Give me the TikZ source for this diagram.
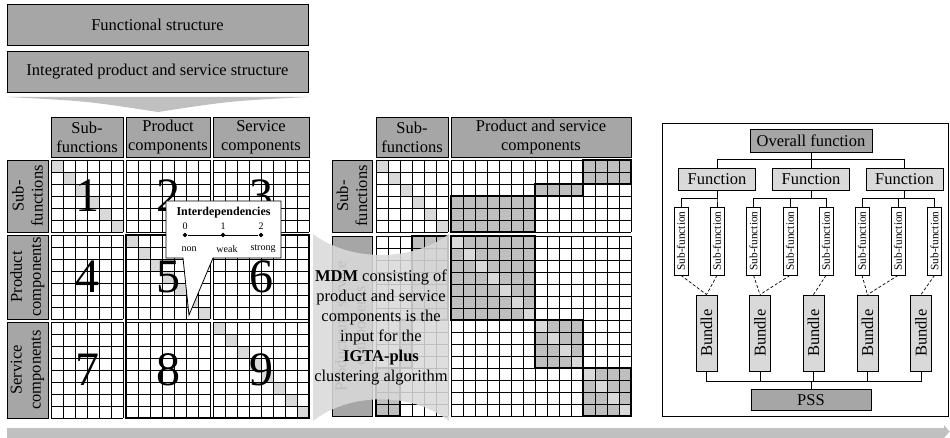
\documentclass[tikz,border=0pt]{standalone}
\usepackage{fontspec}
\setmainfont{Liberation Serif}
\usetikzlibrary{calc,shapes.geometric}
\definecolor{HeadClr}{RGB}{166,166,166}
\definecolor{DiagClr}{RGB}{217,217,217}
\definecolor{ClusterClr}{RGB}{191,191,191}
\definecolor{ArrowClr}{RGB}{192,192,192}
\definecolor{BoxClr}{RGB}{217,217,217}

\newcommand{\cellw}{12}
\newcommand{\bigfont}{\fontsize{16.5}{19}\selectfont}
\newcommand{\cellgrid}[4]{%
  \foreach \i in {0,...,#3} \draw[gridline] ({#1+\i*\cellw},#2) -- ({#1+\i*\cellw},{#2+#4*\cellw});
  \foreach \j in {0,...,#4} \draw[gridline] (#1,{#2+\j*\cellw}) -- ({#1+#3*\cellw},{#2+\j*\cellw});}
\newcommand{\diagcells}[3]{%
  \foreach \k in {1,...,#3} \fill[DiagClr] ({#1+(\k-1)*\cellw},{#2+(\k-1)*\cellw}) rectangle ++(\cellw,\cellw);}

\tikzset{
  gridline/.style={line width=0.7pt},
  blockline/.style={line width=1.8pt},
  headbox/.style={draw,fill=HeadClr,line width=0.8pt,inner sep=0pt,align=center,font=\bigfont},
  bignum/.style={font=\fontsize{48}{48}\selectfont,inner sep=0pt},
  treebox/.style={draw,line width=0.8pt,inner sep=0pt,font=\bigfont},
  tree/.style={line width=0.8pt},
  dashline/.style={line width=0.7pt,dashed,dash pattern=on 3pt off 2pt},
  scalemark/.style={diamond,fill=black,inner sep=0pt,minimum size=5pt},
  smalltext/.style={font=\fontsize{10}{11}\selectfont,inner sep=0pt}
}

\begin{document}
\begin{tikzpicture}[x=1pt,y=-1pt]
\useasboundingbox (0,0) rectangle (950,438);

\node[headbox,minimum width=301,minimum height=41] (fstruct) at (157.5,24.5) {Functional structure};
\node[headbox,minimum width=301,minimum height=41] (ipstruct) at (157.5,72) {Integrated product and service structure};
\fill[ArrowClr] (7,97) -- (308,97) .. controls (230,101) .. (158,112) .. controls (86,101) .. (7,97) -- cycle;

\node[headbox,minimum width=72,minimum height=40] (chsf) at (87,137) {Sub-\\functions};
\node[headbox,minimum width=84,minimum height=40] (chpc) at (168,137) {Product\\components};
\node[headbox,minimum width=96,minimum height=40] (chsc) at (261,137) {Service\\components};
\node[headbox,rotate=90,minimum width=72,minimum height=41] (rhsf) at (27.5,196) {Sub-\\functions};
\node[headbox,rotate=90,minimum width=84,minimum height=41] (rhpc) at (27.5,277) {Product\\components};
\node[headbox,rotate=90,minimum width=96,minimum height=41] (rhsc) at (27.5,370) {Service\\components};

\diagcells{51}{160}{6}
\diagcells{126}{235}{7}
\diagcells{213}{322}{8}
\foreach \cx/\nc [count=\ci] in {51/6,126/7,213/8}
  \foreach \ry/\nr [count=\ri] in {160/6,235/7,322/8} {
    \cellgrid{\cx}{\ry}{\nc}{\nr}
    \node[bignum] (num\ri\ci) at ({\cx+\nc*6},{\ry+\nr*6}) {\the\numexpr(\ri-1)*3+\ci\relax};
  }
\draw[blockline] (126,235) rectangle (309,418);

\draw[fill=white,line width=0.8pt] (166,201) -- (281,201) -- (281,258) -- (213,258) -- (189,315) -- (183,258) -- (166,258) -- cycle;
\node[font=\bfseries\fontsize{12}{14}\selectfont] (intdep) at (223.5,213) {Interdependencies};
\node[scalemark] (mk0) at (185,235) {};
\node[scalemark] (mk1) at (223,235) {};
\node[scalemark] (mk2) at (261,235) {};
\draw[line width=0.8pt] (mk0) -- (mk2);
\node[smalltext] (val0) at (185,226) {0};
\node[smalltext] (val1) at (223,226) {1};
\node[smalltext] (val2) at (261,226) {2};
\node[smalltext] (lbl0) at (189,249) {non};
\node[smalltext] (lbl1) at (227,249) {weak};
\node[smalltext] (lbl2) at (263,249) {strong};

\node[headbox,minimum width=72,minimum height=40] (mchsf) at (412,137) {Sub-\\functions};
\node[headbox,minimum width=180,minimum height=40] (mchps) at (541,137) {Product and service\\components};
\node[headbox,rotate=90,minimum width=72,minimum height=40] (mrhsf) at (352,196) {Sub-\\functions};
\node[headbox,rotate=90,minimum width=180,minimum height=40] (mrhps) at (352,326) {Product and service\\components};

\fill[ClusterClr] (583,160) rectangle (631,184);
\fill[ClusterClr] (535,184) rectangle (583,196);
\fill[ClusterClr] (451,196) rectangle (535,232);
\fill[ClusterClr] (451,236) rectangle (535,320);
\fill[ClusterClr] (535,320) rectangle (583,368);
\fill[ClusterClr] (583,368) rectangle (631,416);
\fill[ClusterClr] (412,236) rectangle (448,320);
\fill[ClusterClr] (400,320) rectangle (412,368);
\fill[ClusterClr] (376,368) rectangle (400,416);
\diagcells{376}{160}{6}
\diagcells{451}{236}{15}
\cellgrid{376}{160}{6}{6}
\cellgrid{451}{160}{15}{6}
\cellgrid{376}{236}{6}{15}
\cellgrid{451}{236}{15}{15}
\draw[blockline] (583,160) rectangle (631,184);
\draw[blockline] (535,184) rectangle (583,196);
\draw[blockline] (451,196) rectangle (535,232);
\draw[blockline] (451,236) rectangle (535,320);
\draw[blockline] (535,320) rectangle (583,368);
\draw[blockline] (583,368) rectangle (631,416);
\draw[blockline] (412,236) rectangle (448,320);
\draw[blockline] (400,320) rectangle (412,368);
\draw[blockline] (376,368) rectangle (400,416);

\fill[BoxClr,opacity=.88] (313,234) .. controls (350,262) and (412,262) .. (449,234) -- (449,421) .. controls (412,392) and (350,392) .. (313,421) -- cycle;
\node[align=center,font=\fontsize{16.5}{20}\selectfont] (mdm) at (381,327) {\textbf{MDM} consisting of\\product and service\\components is the\\input for the\\\textbf{IGTA-plus}\\clustering algorithm};

\draw[line width=0.8pt] (662,123) rectangle (948.5,416);
\node[treebox,fill=HeadClr,minimum width=122,minimum height=23] (ovf) at (811,140.5) {Overall function};
\node[treebox,fill=BoxClr,minimum width=77,minimum height=22] (fn1) at (717,179) {Function};
\node[treebox,fill=BoxClr,minimum width=77,minimum height=22] (fn2) at (811,179) {Function};
\node[treebox,fill=BoxClr,minimum width=77,minimum height=22] (fn3) at (904.5,179) {Function};
\foreach \x [count=\n] in {681,717,753.5,790,826,862,898,934.5}
  \node[treebox,fill=white,minimum width=14,minimum height=68,font=\fontsize{11.3}{12}\selectfont] (sf\n) at (\x,241) {\rotatebox{90}{Sub-function}};
\foreach \x [count=\n] in {706.5,760,813.5,867.5,921}
  \node[treebox,fill=BoxClr,minimum width=21,minimum height=76] (bd\n) at (\x,333) {\rotatebox{90}{Bundle}};
\node[treebox,fill=HeadClr,minimum width=120,minimum height=21] (pss) at (811,400) {PSS};

\draw[tree] (ovf.south) -- ++(0,7) -| (fn1.north);
\draw[tree] (ovf.south) -- (fn2.north);
\draw[tree] (ovf.south) -- ++(0,7) -| (fn3.north);
\foreach \s in {1,2} \draw[tree] (fn1.south) -- ++(0,8) -| (sf\s.north);
\foreach \s in {3,4,5} \draw[tree] (fn2.south) -- ++(0,8) -| (sf\s.north);
\foreach \s in {6,7,8} \draw[tree] (fn3.south) -- ++(0,8) -| (sf\s.north);
\foreach \s/\b in {1/1,2/1,3/2,4/2,5/3,6/4,7/4,8/5} \draw[dashline] (sf\s.south) -- (bd\b.north);
\foreach \b in {1,...,5} \draw[tree] (bd\b.south) -- ++(0,10) -| (pss.north);

\fill[ArrowClr] (7,428) -- (944,428) -- (944,425) -- (949.5,431.5) -- (944,438) -- (7,438) -- cycle;

\end{tikzpicture}
\end{document}
